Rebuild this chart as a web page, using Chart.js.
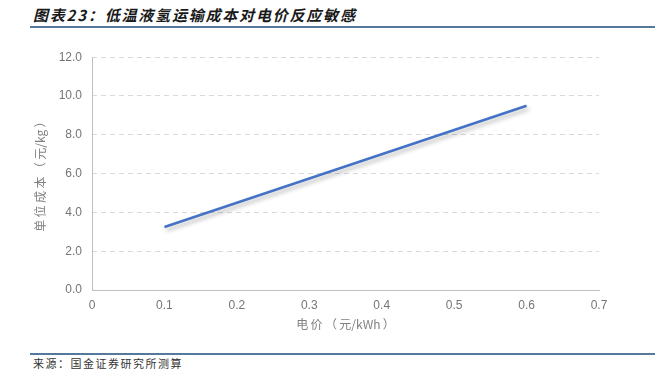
<!DOCTYPE html>
<html lang="zh">
<head>
    <meta charset="UTF-8">
    <title>低温液氢运输成本对电价反应敏感</title>
    <script src="https://cdn.jsdelivr.net/npm/chart.js"></script>
    <style>
        body {
            margin: 0;
            width: 655px;
            height: 369px;
            background: #fff;
            position: relative;
            overflow: hidden;
            font-family: "Noto Sans CJK SC", sans-serif;
        }

        .title {
            position: absolute;
            left: 33px;
            top: 4px;
            font-size: 15px;
            font-weight: bold;
            font-style: italic;
            letter-spacing: 1.8px;
            color: #1a1a1a;
        }

        .rule {
            position: absolute;
            left: 30px;
            right: 0;
            height: 2px;
            background: #55799b;
        }

        .source {
            position: absolute;
            left: 33px;
            top: 355px;
            font-size: 11px;
            letter-spacing: 1.5px;
            color: #333;
        }

        #chartBox {
            position: absolute;
            left: 0;
            top: 40px;
            width: 655px;
            height: 300px;
        }
    </style>
</head>
<body>
    <div class="title">图表23：低温液氢运输成本对电价反应敏感</div>
    <div class="rule" style="top: 26px;"></div>

    <div id="chartBox">
        <canvas id="costChart"></canvas>
    </div>

    <div class="rule" style="top: 353px;"></div>
    <div class="source">来源：国金证券研究所测算</div>

    <script>
        // electricity price (元/kWh) and unit cost (元/kg)
        const prices = [0.1, 0.2, 0.3, 0.4, 0.5, 0.6];
        const unitCost = [3.25, 4.5, 5.75, 7.0, 8.25, 9.5];

        const xTicks = [0, 0.1, 0.2, 0.3, 0.4, 0.5, 0.6, 0.7];
        const yTicks = [0, 2, 4, 6, 8, 10, 12];

        const tickFont = { family: 'Liberation Sans', size: 12 };
        const tickColor = '#757575';
        const titleColor = '#808080';

        // soft drop shadow under the line, like the office chart
        const lineShadow = {
            id: 'lineShadow',
            beforeDatasetsDraw(chart) {
                const ctx = chart.ctx;
                ctx.save();
                ctx.shadowColor = 'rgba(0, 0, 0, 0.28)';
                ctx.shadowBlur = 4;
                ctx.shadowOffsetX = 2;
                ctx.shadowOffsetY = 3;
            },
            afterDatasetsDraw(chart) {
                chart.ctx.restore();
            }
        };

        // y axis line drawn solid on top (the gridlines are dashed)
        const solidYAxis = {
            id: 'solidYAxis',
            afterDraw(chart) {
                const { ctx, chartArea } = chart;
                ctx.save();
                ctx.strokeStyle = '#bfbfbf';
                ctx.lineWidth = 1;
                ctx.setLineDash([]);
                ctx.beginPath();
                ctx.moveTo(chartArea.left + 0.5, chartArea.top);
                ctx.lineTo(chartArea.left + 0.5, chartArea.bottom);
                ctx.stroke();
                ctx.restore();
            }
        };

        new Chart(document.getElementById('costChart'), {
            type: 'line',
            data: {
                datasets: [{
                    data: prices.map((p, i) => ({ x: p, y: unitCost[i] })),
                    borderColor: '#4472c4',
                    borderWidth: 2.5,
                    pointRadius: 0,
                    tension: 0,
                    fill: false
                }]
            },
            options: {
                responsive: true,
                maintainAspectRatio: false,
                animation: false,
                layout: {
                    padding: { left: 0, right: 56, top: 15, bottom: 0 }
                },
                plugins: {
                    legend: { display: false },
                    tooltip: { enabled: false }
                },
                scales: {
                    x: {
                        type: 'linear',
                        min: 0,
                        max: 0.7,
                        afterBuildTicks: scale => {
                            scale.ticks = xTicks.map(v => ({ value: v }));
                        },
                        afterFit: scale => { scale.height = 50; },
                        ticks: {
                            font: tickFont,
                            color: tickColor,
                            padding: 8,
                            maxRotation: 0,
                            callback: v => v === 0 ? '0' : v.toFixed(1)
                        },
                        grid: { display: false, drawTicks: false },
                        border: { display: true, color: '#bfbfbf', width: 1 },
                        title: {
                            display: true,
                            text: '电\u2009价\u2009（\u2009元/kWh\u2009）',
                            color: titleColor,
                            font: { family: 'Noto Sans CJK SC', size: 12 },
                            padding: { top: 0, bottom: 8 }
                        }
                    },
                    y: {
                        min: 0,
                        max: 12,
                        afterBuildTicks: scale => {
                            scale.ticks = yTicks.map(v => ({ value: v }));
                        },
                        afterFit: scale => { scale.width = 92; },
                        ticks: {
                            font: tickFont,
                            color: tickColor,
                            padding: 10,
                            callback: v => v.toFixed(1)
                        },
                        grid: {
                            drawTicks: false,
                            color: ctx => ctx.tick && ctx.tick.value === 0 ? 'rgba(0,0,0,0)' : '#d9d9d9',
                            lineWidth: 1
                        },
                        border: { display: false, dash: [5, 4] },
                        title: {
                            display: true,
                            text: '单\u2009位\u2009成\u2009本\u2009（\u2009元/kg\u2009）',
                            color: titleColor,
                            font: { family: 'Noto Sans CJK SC', size: 12 },
                            padding: { top: 33, bottom: 0 }
                        }
                    }
                }
            },
            plugins: [lineShadow, solidYAxis]
        });
    </script>
</body>
</html>
